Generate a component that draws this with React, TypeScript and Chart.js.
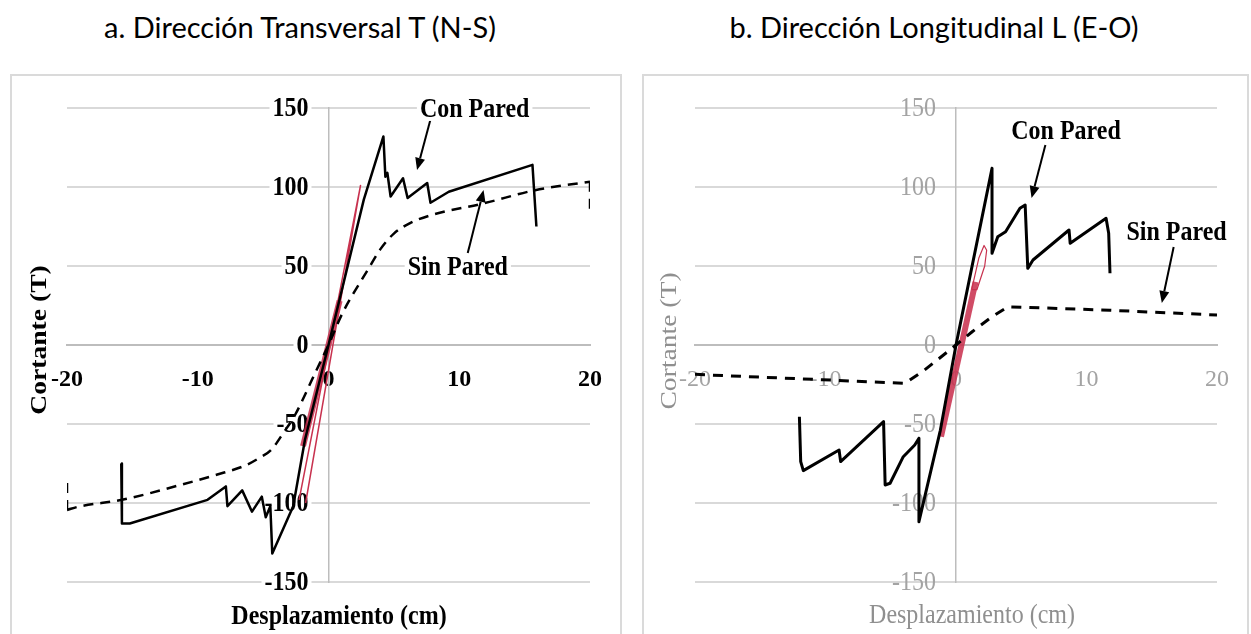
import React, { useEffect, useRef } from "react";
import { Chart, registerables } from "chart.js";

Chart.register(...registerables);

// ---------- shared ticks ----------
const xTickValues = [-20, -10, 0, 10, 20];
const yTickValues = [-150, -100, -50, 0, 50, 100, 150];

// ---------- a. Dirección Transversal T (N-S) ----------
const tConX = [-15.85, -15.8, -15.2, -9.25, -7.85, -7.73, -6.6, -5.85, -5.1, -4.8, -4.45, -4.3, -2.7, -1.8, 0, 2.7, 4.2, 4.35, 4.5, 4.75, 5.7, 6.05, 7.55, 7.8, 9.2, 15.6, 15.9];
const tConY = [-75, -113, -113, -98, -89.5, -102, -92, -105.5, -96, -109, -102, -132, -102, -60, 0, 92, 132, 106.5, 109, 94, 105.5, 93, 102.5, 90, 97, 114, 75];

const tSinX = [-20, -19.1, -15.8, -11.6, -8.5, -6.3, -5.3, -4.4, -3.4, -2.54, -1.04, 0, 1.06, 3.0, 4.0, 5.0, 6.2, 7.98, 11.9, 15.8, 20];
const tSinY = [-104.4, -102.3, -98, -89.2, -82, -76, -71.5, -66.5, -55, -44, -18, 0, 20, 47.5, 61, 70.5, 77, 82.5, 89.7, 98, 103.4];
const tSinEndLX = [-20, -20];
const tSinEndLY = [-104.4, -86.5];
const tSinEndRX = [20, 20];
const tSinEndRY = [103.4, 85.4];

const tRedThinX = [-2.25, 2.45, 2.3, -1.75];
const tRedThinY = [-98, 101, 94, -100];
const tRedBandX = [-1.95, 0.85];
const tRedBandY = [-64, 28];

// ---------- b. Dirección Longitudinal L (E-O) ----------
const lConX = [-12.0, -11.9, -11.7, -8.96, -8.84, -5.55, -5.43, -5.05, -4.04, -3.16, -2.84, -2.84, -1.2, 0, 2.76, 2.76, 3.2, 3.8, 4.9, 5.3, 5.5, 5.9, 8.66, 8.75, 11.5, 11.7, 11.8];
const lConY = [-45.4, -73.8, -79.5, -66.5, -73.8, -48.5, -88.6, -87.5, -70.7, -63.3, -59, -111.8, -54, 0, 111.8, 58, 68.5, 71.7, 86.5, 88.6, 48.5, 53.8, 72.8, 64.4, 80.2, 70.7, 45.4];

const lSinX = [-20, -18.9, -10.25, -3.9, -2.4, 0, 1.24, 2.76, 3.97, 11.8, 20];
const lSinY = [-18.5, -19, -22, -24.2, -15.8, 0, 8.4, 17.9, 24.2, 22, 19];

const lRedBandX = [-1.15, 1.5];
const lRedBandY = [-58, 40];
const lRedLoopX = [1.2, 1.75, 2.15, 2.35, 2.2, 1.6, 1.2];
const lRedLoopY = [35, 55, 63, 60, 50, 35, 35];

// ---------- annotations (data units) ----------
const tLabels = [
  { text: "Con Pared", at: [11.18, 149.4] },
  { text: "Sin Pared", at: [9.89, 49.4] },
];
const tArrows = [
  { from: [7.83, 143.7], to: [6.77, 110.8] },
  { from: [10.65, 58.2], to: [11.86, 98.1] },
];
const lLabels = [
  { text: "Con Pared", at: [8.43, 135.4] },
  { text: "Sin Pared", at: [16.9, 71.5] },
];
const lArrows = [
  { from: [6.85, 126.6], to: [5.79, 93] },
  { from: [16.68, 62], to: [15.77, 26.6] },
];

const pts = (xs: number[], ys: number[]) => xs.map((x, i) => ({ x, y: ys[i] }));

type PanelOpts = {
  left: number;
  width: number;
  padLeft: number;
  padRight: number;
  bold: boolean;
  tickColor: string;
  titleColor: string;
  backdrop: boolean;
  yTitlePos: [number, number];
  xTitlePos: [number, number];
  labels: { text: string; at: number[] }[];
  arrows: { from: number[]; to: number[] }[];
  datasets: any[];
};

const SERIF = '"Liberation Serif", "Times New Roman", serif';
const CANVAS_H = 566;

function makeOverlay(o: PanelOpts) {
  return {
    id: "overlay",
    beforeDatasetsDraw(chart: any) {
      // y tick labels, right-aligned left of the vertical axis
      const ctx = chart.ctx as CanvasRenderingContext2D;
      const sx = chart.scales.x;
      const sy = chart.scales.y;
      const axisX = sx.getPixelForValue(0);
      ctx.save();
      ctx.font = `${o.bold ? "bold " : ""}24px ${SERIF}`;
      ctx.textAlign = "right";
      ctx.textBaseline = "middle";
      for (const v of yTickValues) {
        const y = sy.getPixelForValue(v);
        const txt = String(v);
        const w = ctx.measureText(txt).width;
        const xr = axisX - 20;
        if (o.backdrop) {
          ctx.fillStyle = "#ffffff";
          ctx.fillRect(xr - w - 3, y - 11, w + 6, 22);
        }
        ctx.fillStyle = o.tickColor;
        ctx.save();
        ctx.translate(xr, y);
        ctx.scale(1, 1.1);
        ctx.fillText(txt, 0, 1);
        ctx.restore();
      }
      ctx.restore();
    },
    afterDatasetsDraw(chart: any) {
      const ctx = chart.ctx as CanvasRenderingContext2D;
      const sx = chart.scales.x;
      const sy = chart.scales.y;
      ctx.save();
      // arrows
      ctx.strokeStyle = "#000";
      ctx.fillStyle = "#000";
      ctx.lineWidth = 2;
      for (const a of o.arrows) {
        const x1 = sx.getPixelForValue(a.from[0]);
        const y1 = sy.getPixelForValue(a.from[1]);
        const x2 = sx.getPixelForValue(a.to[0]);
        const y2 = sy.getPixelForValue(a.to[1]);
        const ang = Math.atan2(y2 - y1, x2 - x1);
        const hl = 12;
        const hw = 5;
        const bx = x2 - hl * Math.cos(ang);
        const by = y2 - hl * Math.sin(ang);
        ctx.beginPath();
        ctx.moveTo(x1, y1);
        ctx.lineTo(bx, by);
        ctx.stroke();
        ctx.beginPath();
        ctx.moveTo(x2, y2);
        ctx.lineTo(bx + hw * Math.sin(ang), by - hw * Math.cos(ang));
        ctx.lineTo(bx - hw * Math.sin(ang), by + hw * Math.cos(ang));
        ctx.closePath();
        ctx.fill();
      }
      // labels
      ctx.font = `bold 24px ${SERIF}`;
      ctx.textAlign = "center";
      ctx.textBaseline = "middle";
      for (const l of o.labels) {
        const x = sx.getPixelForValue(l.at[0]);
        const y = sy.getPixelForValue(l.at[1]);
        const w = ctx.measureText(l.text).width;
        ctx.fillStyle = "#fff";
        ctx.fillRect(x - w / 2 - 3, y - 12, w + 6, 24);
        ctx.fillStyle = "#000";
        ctx.save();
        ctx.translate(x, y);
        ctx.scale(1, 1.12);
        ctx.fillText(l.text, 0, 1);
        ctx.restore();
      }
      // axis titles
      ctx.fillStyle = o.titleColor;
      ctx.font = `${o.bold ? "bold " : ""}24px ${SERIF}`;
      ctx.save();
      ctx.translate(o.xTitlePos[0], o.xTitlePos[1]);
      ctx.scale(1, 1.12);
      ctx.fillText("Desplazamiento (cm)", 0, 0);
      ctx.restore();
      ctx.save();
      ctx.translate(o.yTitlePos[0], o.yTitlePos[1]);
      ctx.rotate(-Math.PI / 2);
      ctx.scale(1.15, 1);
      ctx.fillText("Cortante (T)", 0, 0);
      ctx.restore();
      ctx.restore();
    },
  };
}

function Panel(o: PanelOpts) {
  const ref = useRef<HTMLCanvasElement | null>(null);
  useEffect(() => {
    if (!ref.current) return;
    const tickFont = { family: SERIF, size: 24, weight: o.bold ? "bold" : "normal" } as any;
    const chart = new Chart(ref.current, {
      type: "scatter",
      data: { datasets: o.datasets },
      options: {
        animation: false,
        responsive: false,
        maintainAspectRatio: false,
        layout: { padding: { left: o.padLeft, right: o.padRight, top: 34, bottom: CANVAS_H - 508 } },
        plugins: { legend: { display: false }, tooltip: { enabled: false } },
        elements: { point: { radius: 0 } },
        scales: {
          x: {
            type: "linear",
            min: -20,
            max: 20,
            position: { y: 0 } as any,
            afterBuildTicks: (s: any) => {
              s.ticks = xTickValues.map((v) => ({ value: v }));
            },
            grid: { display: false, drawTicks: false },
            border: { display: true, color: "#bdbdbd", width: 2 },
            ticks: {
              font: tickFont,
              color: o.tickColor,
              padding: 20,
              maxRotation: 0,
              autoSkip: false,
              callback: (v: any) => String(v),
            },
          },
          y: {
            type: "linear",
            min: -150,
            max: 150,
            position: { x: 0 } as any,
            afterBuildTicks: (s: any) => {
              s.ticks = yTickValues.map((v) => ({ value: v }));
            },
            grid: { color: "#d9d9d9", lineWidth: 2, drawTicks: false },
            border: { display: true, color: "#bdbdbd", width: 1.5 },
            ticks: { display: false },
          },
        },
      },
      plugins: [makeOverlay(o)],
    });
    return () => chart.destroy();
  }, []);
  return (
    <div
      style={{
        position: "absolute",
        left: o.left,
        top: 74,
        width: o.width,
        height: CANVAS_H,
        boxSizing: "border-box",
        border: "2px solid #dadada",
        background: "#fff",
      }}
    >
      <canvas
        ref={ref}
        width={o.width}
        height={CANVAS_H}
        style={{ position: "absolute", left: -2, top: -2, display: "block" }}
      />
    </div>
  );
}

const line = (data: any[], color: string, width: number, order: number, dash: number[] = [], smooth = false) => ({
  data,
  showLine: true,
  borderColor: color,
  backgroundColor: color,
  borderWidth: width,
  borderDash: dash,
  borderJoinStyle: "round",
  borderCapStyle: "butt",
  pointRadius: 0,
  fill: false,
  tension: 0,
  cubicInterpolationMode: smooth ? "monotone" : "default",
  order,
});

export default function App() {
  const tDatasets = [
    line(pts(tConX, tConY), "#000000", 2.5, 0),
    line(pts(tSinX, tSinY), "#000000", 2.5, 1, [10, 7], true),
    line(pts(tSinEndLX, tSinEndLY), "#000000", 2.5, 1, [10, 7]),
    line(pts(tSinEndRX, tSinEndRY), "#000000", 2.5, 1, [10, 7]),
    line(pts(tRedThinX, tRedThinY), "#c8324f", 1.5, 2),
    line(pts(tRedBandX, tRedBandY), "rgba(200,45,75,0.85)", 6, 3),
  ];
  const lDatasets = [
    line(pts(lConX, lConY), "#000000", 3, 0),
    line(pts(lSinX, lSinY), "#000000", 3, 1, [10, 8]),
    line(pts(lRedLoopX, lRedLoopY), "#c8324f", 1.2, 2),
    line(pts(lRedBandX, lRedBandY), "rgba(200,45,75,0.85)", 6, 3),
  ];
  const titleStyle: React.CSSProperties = {
    position: "absolute",
    top: 9,
    fontFamily: 'Lato, "Open Sans", sans-serif',
    fontSize: 29,
    lineHeight: "36px",
    color: "#000",
    whiteSpace: "nowrap",
    transform: "translateX(-50%)",
  };
  return (
    <div
      style={{
        position: "absolute",
        left: 0,
        top: 0,
        width: 1251,
        height: 634,
        overflow: "hidden",
        background: "#fff",
      }}
    >
      <div style={{ ...titleStyle, left: 300 }}>a. Dirección Transversal T (N-S)</div>
      <div style={{ ...titleStyle, left: 934 }}>b. Dirección Longitudinal L (E-O)</div>
      <Panel
        left={10}
        width={612}
        padLeft={57}
        padRight={29}
        bold={true}
        tickColor="#000000"
        titleColor="#000000"
        backdrop={true}
        yTitlePos={[30, 266]}
        xTitlePos={[329, 543]}
        labels={tLabels}
        arrows={tArrows}
        datasets={tDatasets}
      />
      <Panel
        left={642}
        width={607}
        padLeft={53}
        padRight={25}
        bold={false}
        tickColor="#a3a3a3"
        titleColor="#8f8f8f"
        backdrop={false}
        yTitlePos={[28, 267]}
        xTitlePos={[330, 542]}
        labels={lLabels}
        arrows={lArrows}
        datasets={lDatasets}
      />
    </div>
  );
}
